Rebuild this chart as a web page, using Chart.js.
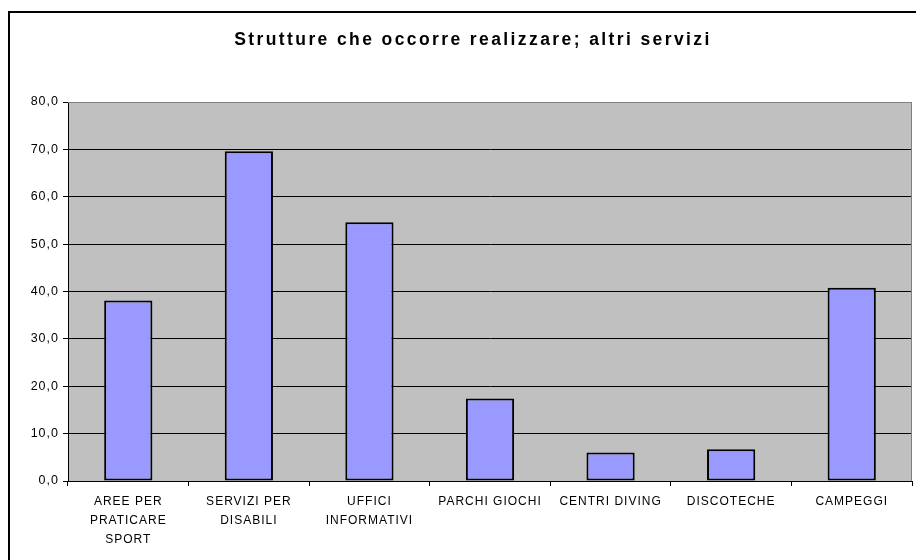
<!DOCTYPE html>
<html>
<head>
<meta charset="utf-8">
<script src="https://cdn.jsdelivr.net/npm/chart.js@4/dist/chart.umd.min.js"></script>
<style>
html,body{margin:0;padding:0;background:#fff;}
#wrap{position:relative;width:916px;height:560px;}
</style>
</head>
<body>
<div id="wrap"><canvas id="c" width="916" height="560"></canvas></div>
<script>
const titleText = "Strutture che occorre realizzare; altri servizi";
const categories = [
  ["AREE PER", "PRATICARE", "SPORT"],
  ["SERVIZI PER", "DISABILI"],
  ["UFFICI", "INFORMATIVI"],
  "PARCHI GIOCHI",
  "CENTRI DIVING",
  "DISCOTECHE",
  "CAMPEGGI"
];
const values = [38.1, 69.6, 54.6, 17.4, 6.0, 6.7, 40.8];
const yMin = 0, yMax = 80, yStep = 10;

const FONT = 'Arial, "Liberation Sans", sans-serif';

const framePlugin = {
  id: 'frame',
  beforeInit(chart) { chart.ctx.letterSpacing = '1px'; },
  beforeUpdate(chart) { chart.ctx.letterSpacing = '1px'; },
  beforeDraw(chart) {
    const {ctx, chartArea: a} = chart;
    ctx.letterSpacing = '1px';
    ctx.save();
    ctx.fillStyle = '#fff';
    ctx.fillRect(0, 0, chart.width, chart.height);
    ctx.fillStyle = '#C0C0C0';
    ctx.fillRect(a.left, a.top, a.right - a.left, a.bottom - a.top);
    ctx.strokeStyle = '#000';
    ctx.lineWidth = 2;
    ctx.strokeRect(9, 12, chart.width + 20, chart.height + 20);
    // title
    ctx.letterSpacing = '2.4px';
    ctx.fillStyle = '#000';
    ctx.font = 'bold 17.5px ' + FONT;
    ctx.textAlign = 'center';
    ctx.textBaseline = 'alphabetic';
    ctx.fillText(titleText, 473, 45);
    ctx.restore();
  },
  afterDatasetsDraw(chart) {
    const {ctx, chartArea: a} = chart;
    ctx.save();
    ctx.strokeStyle = '#808080';
    ctx.lineWidth = 1;
    ctx.beginPath();
    ctx.moveTo(a.left, a.top + 0.5);
    ctx.lineTo(a.right - 0.5, a.top + 0.5);
    ctx.lineTo(a.right - 0.5, a.bottom);
    ctx.stroke();
    ctx.restore();
  }
};

new Chart(document.getElementById('c'), {
  type: 'bar',
  data: {
    labels: categories,
    datasets: [{
      data: values,
      backgroundColor: '#9999FF',
      borderColor: '#000',
      borderWidth: 2,
      borderSkipped: false,
      categoryPercentage: 1.0,
      barPercentage: 0.4
    }]
  },
  options: {
    responsive: false,
    animation: false,
    layout: { padding: { left: 20, right: 4, top: 102, bottom: 0 } },
    plugins: {
      legend: { display: false },
      tooltip: { enabled: false },
      title: { display: false }
    },
    scales: {
      x: {
        offset: true,
        grid: { display: true, offset: true, drawOnChartArea: false, drawTicks: true, tickLength: 5, color: '#000' },
        border: { display: true, color: '#000', width: 1 },
        ticks: {
          color: '#000',
          font: { family: FONT, size: 12, lineHeight: '19px' },
          padding: 6,
          maxRotation: 0,
          autoSkip: false
        },
        afterFit(s) { s.height = 79; }
      },
      y: {
        min: yMin, max: yMax,
        grid: {
          color: (c) => c.tick && c.tick.value === yMax ? '#808080' : '#000',
          tickColor: '#000',
          tickLength: 5,
          drawTicks: true
        },
        border: { display: true, color: '#000', width: 1 },
        ticks: {
          stepSize: yStep,
          color: '#000',
          padding: 4,
          font: { family: FONT, size: 12.5 },
          callback: (v) => v.toFixed(1).replace('.', ',')
        },
        afterFit(s) { s.width = 48; }
      }
    }
  },
  plugins: [framePlugin]
});
</script>
</body>
</html>
